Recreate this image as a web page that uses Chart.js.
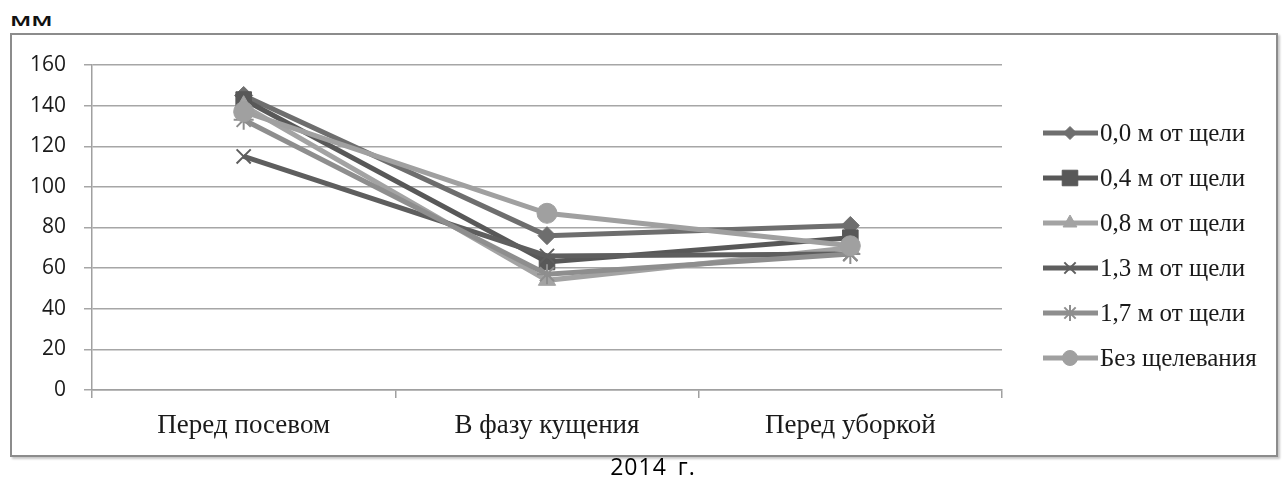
<!DOCTYPE html>
<html>
<head>
<meta charset="utf-8">
<script src="https://cdn.jsdelivr.net/npm/chart.js@4.4.1/dist/chart.umd.min.js"></script>
<style>
  body { margin: 0; background: #fff; }
  #wrap { position: relative; width: 1284px; height: 480px; overflow: hidden; }
  #frame { position: absolute; left: 10px; top: 33px; width: 1264px; height: 420px;
           border: 2px solid #8c8c8c; box-shadow: 2px 2px 2px #c8c8c8; }
  #unit { position: absolute; left: 10px; top: 10px; font: 600 18px/18px "Open Sans"; color: #111;
          transform: scaleX(1.5); transform-origin: left top; }
  #year { position: absolute; left: 0; width: 1306px; top: 450px; text-align: center;
          font: 500 23px "Open Sans"; color: #000; letter-spacing: 1px; word-spacing: 4px; }
  canvas { position: absolute; left: 0; top: 0; }
</style>
</head>
<body>
<div id="wrap">
  <div id="frame"></div>
  <div id="unit">мм</div>
  <canvas id="myChart" width="1284" height="480"></canvas>
  <div id="year">2014 г.</div>
</div>
<script>
const categories = ["Перед посевом", "В фазу кущения", "Перед уборкой"];
const seriesNames = ["0,0 м от щели", "0,4 м от щели", "0,8 м от щели",
                     "1,3 м от щели", "1,7 м от щели", "Без щелевания"];
const s00 = [145, 76, 81];
const s04 = [143, 63, 75];
const s08 = [140, 54, 70];
const s13 = [115, 66, 67];
const s17 = [133, 57, 67];
const sNone = [137, 87, 71];
const yTicks = [0, 20, 40, 60, 80, 100, 120, 140, 160];

const colors = ["#6e6e6e", "#585858", "#a3a3a3", "#5e5e5e", "#8e8e8e", "#a0a0a0"];
const styles = ["rectRot", "rect", "triangle", "crossRot", "star", "circle"];
const radii = [9, 11, 10, 10, 10, 10];
const legendRadii = [6.5, 11, 8, 8, 8, 7.5];
const allData = [s00, s04, s08, s13, s17, sNone];

const datasets = allData.map((d, i) => ({
  label: seriesNames[i],
  data: d,
  borderColor: colors[i],
  backgroundColor: colors[i],
  pointBackgroundColor: colors[i],
  pointBorderColor: colors[i],
  pointBorderWidth: (styles[i] === "crossRot" || styles[i] === "star") ? 2 : 1,
  borderWidth: 5,
  pointStyle: styles[i],
  pointRadius: radii[i],
  tension: 0,
  order: allData.length - i
}));

// legend drawn like the spreadsheet one: line sample with marker in the middle
const sideLegend = {
  id: "sideLegend",
  afterDraw(chart) {
    const ctx = chart.ctx;
    ctx.save();
    datasets.forEach((ds, i) => {
      const y = 133 + i * 45;
      ctx.strokeStyle = ds.borderColor;
      ctx.lineWidth = 5;
      ctx.beginPath();
      ctx.moveTo(1043, y);
      ctx.lineTo(1098, y);
      ctx.stroke();
      ctx.fillStyle = ds.borderColor;
      ctx.strokeStyle = ds.borderColor;
      ctx.lineWidth = ds.pointBorderWidth;
      Chart.helpers.drawPoint(ctx, { pointStyle: ds.pointStyle, radius: legendRadii[i], rotation: 0, borderWidth: ds.pointBorderWidth }, 1070, y);
      ctx.fillStyle = "#1a1a1a";
      ctx.font = '25px "Liberation Serif"';
      ctx.textBaseline = "middle";
      ctx.textAlign = "left";
      ctx.fillText(ds.label, 1100, y + 1);
    });
    ctx.restore();
  }
};

new Chart(document.getElementById("myChart"), {
  type: "line",
  data: { labels: categories, datasets: datasets },
  plugins: [sideLegend],
  options: {
    responsive: false,
    animation: false,
    layout: { autoPadding: false, padding: { left: 0, top: 65, right: 282, bottom: 0 } },
    plugins: { legend: { display: false }, tooltip: { enabled: false } },
    scales: {
      x: {
        offset: true,
        afterFit(s) { s.height = 90; },
        grid: { offset: true, drawOnChartArea: false, color: "#a0a0a0", lineWidth: 1.5, tickLength: 8 },
        border: { color: "#a0a0a0", width: 1.5 },
        ticks: { color: "#1a1a1a", font: { family: "Liberation Serif", size: 27 }, padding: 12 }
      },
      y: {
        min: 0,
        max: 160,
        afterFit(s) { s.width = 92; },
        afterBuildTicks(s) { s.ticks = yTicks.map(v => ({ value: v })); },
        grid: { color: "#a6a6a6", lineWidth: 1.5, tickLength: 8 },
        border: { color: "#a0a0a0", width: 1.5 },
        ticks: { color: "#1a1a1a", font: { family: "Open Sans", size: 21 }, padding: 18 }
      }
    }
  }
});
</script>
</body>
</html>
